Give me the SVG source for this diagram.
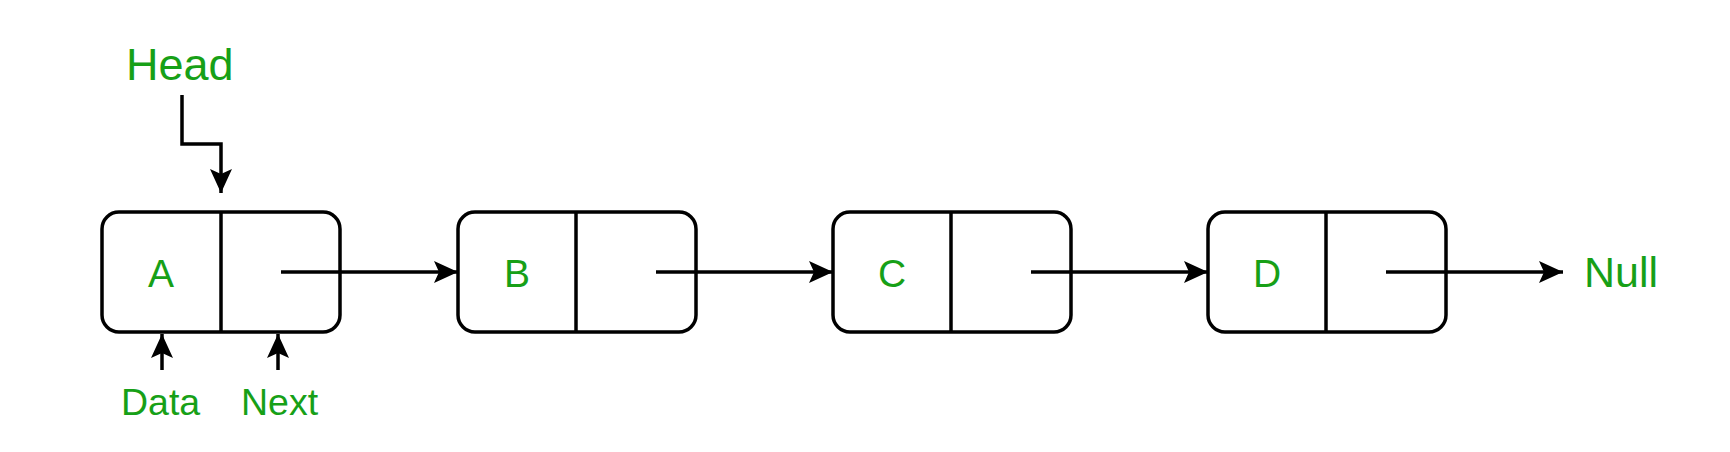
<svg xmlns="http://www.w3.org/2000/svg" width="1730" height="452" viewBox="0 0 1730 452">
<defs>
<style>
.box{fill:#fff;stroke:#000;stroke-width:3.5}
.div{stroke:#000;stroke-width:3.5}
.lbl{font-family:"Liberation Sans",Arial,sans-serif;fill:#17a017}
.con{fill:none;stroke:#000;stroke-width:3.5;marker-end:url(#ah)}
</style>
<marker id="ah" markerUnits="userSpaceOnUse" markerWidth="26" markerHeight="26" viewBox="0 0 26 26" refX="24" refY="13" orient="auto">
<path d="M0,2 L24,13 L0,24 L5,13 Z" fill="#000"/>
</marker>
</defs>
<rect width="1730" height="452" fill="#fff"/>
<g id="nodeA">
<rect class="box" x="102" y="212" width="238" height="120" rx="17"/>
<line class="div" x1="221" y1="212" x2="221" y2="332"/>
<text class="lbl" x="161" y="287" font-size="39" text-anchor="middle">A</text>
</g>
<g id="nodeB">
<rect class="box" x="458" y="212" width="238" height="120" rx="17"/>
<line class="div" x1="576" y1="212" x2="576" y2="332"/>
<text class="lbl" x="517" y="287" font-size="39" text-anchor="middle">B</text>
</g>
<g id="nodeC">
<rect class="box" x="833" y="212" width="238" height="120" rx="17"/>
<line class="div" x1="951" y1="212" x2="951" y2="332"/>
<text class="lbl" x="892" y="287" font-size="39" text-anchor="middle">C</text>
</g>
<g id="nodeD">
<rect class="box" x="1208" y="212" width="238" height="120" rx="17"/>
<line class="div" x1="1326" y1="212" x2="1326" y2="332"/>
<text class="lbl" x="1267" y="287" font-size="39" text-anchor="middle">D</text>
</g>
<g id="head">
<text class="lbl" x="126" y="80" font-size="45">Head</text>
</g>
<g id="null">
<text class="lbl" x="1584" y="287" font-size="43">Null</text>
</g>
<g id="data">
<text class="lbl" x="121" y="415" font-size="37.5">Data</text>
</g>
<g id="next">
<text class="lbl" x="241" y="415" font-size="37.5">Next</text>
</g>
<g id="connectors">
<path class="con" d="M182,95 V144 H221 V193"/>
<path class="con" d="M281,272 H458"/>
<path class="con" d="M656,272 H833"/>
<path class="con" d="M1031,272 H1208"/>
<path class="con" d="M1386,272 H1563"/>
<path class="con" d="M162,370 V334"/>
<path class="con" d="M278,370 V334"/>
</g>
</svg>
